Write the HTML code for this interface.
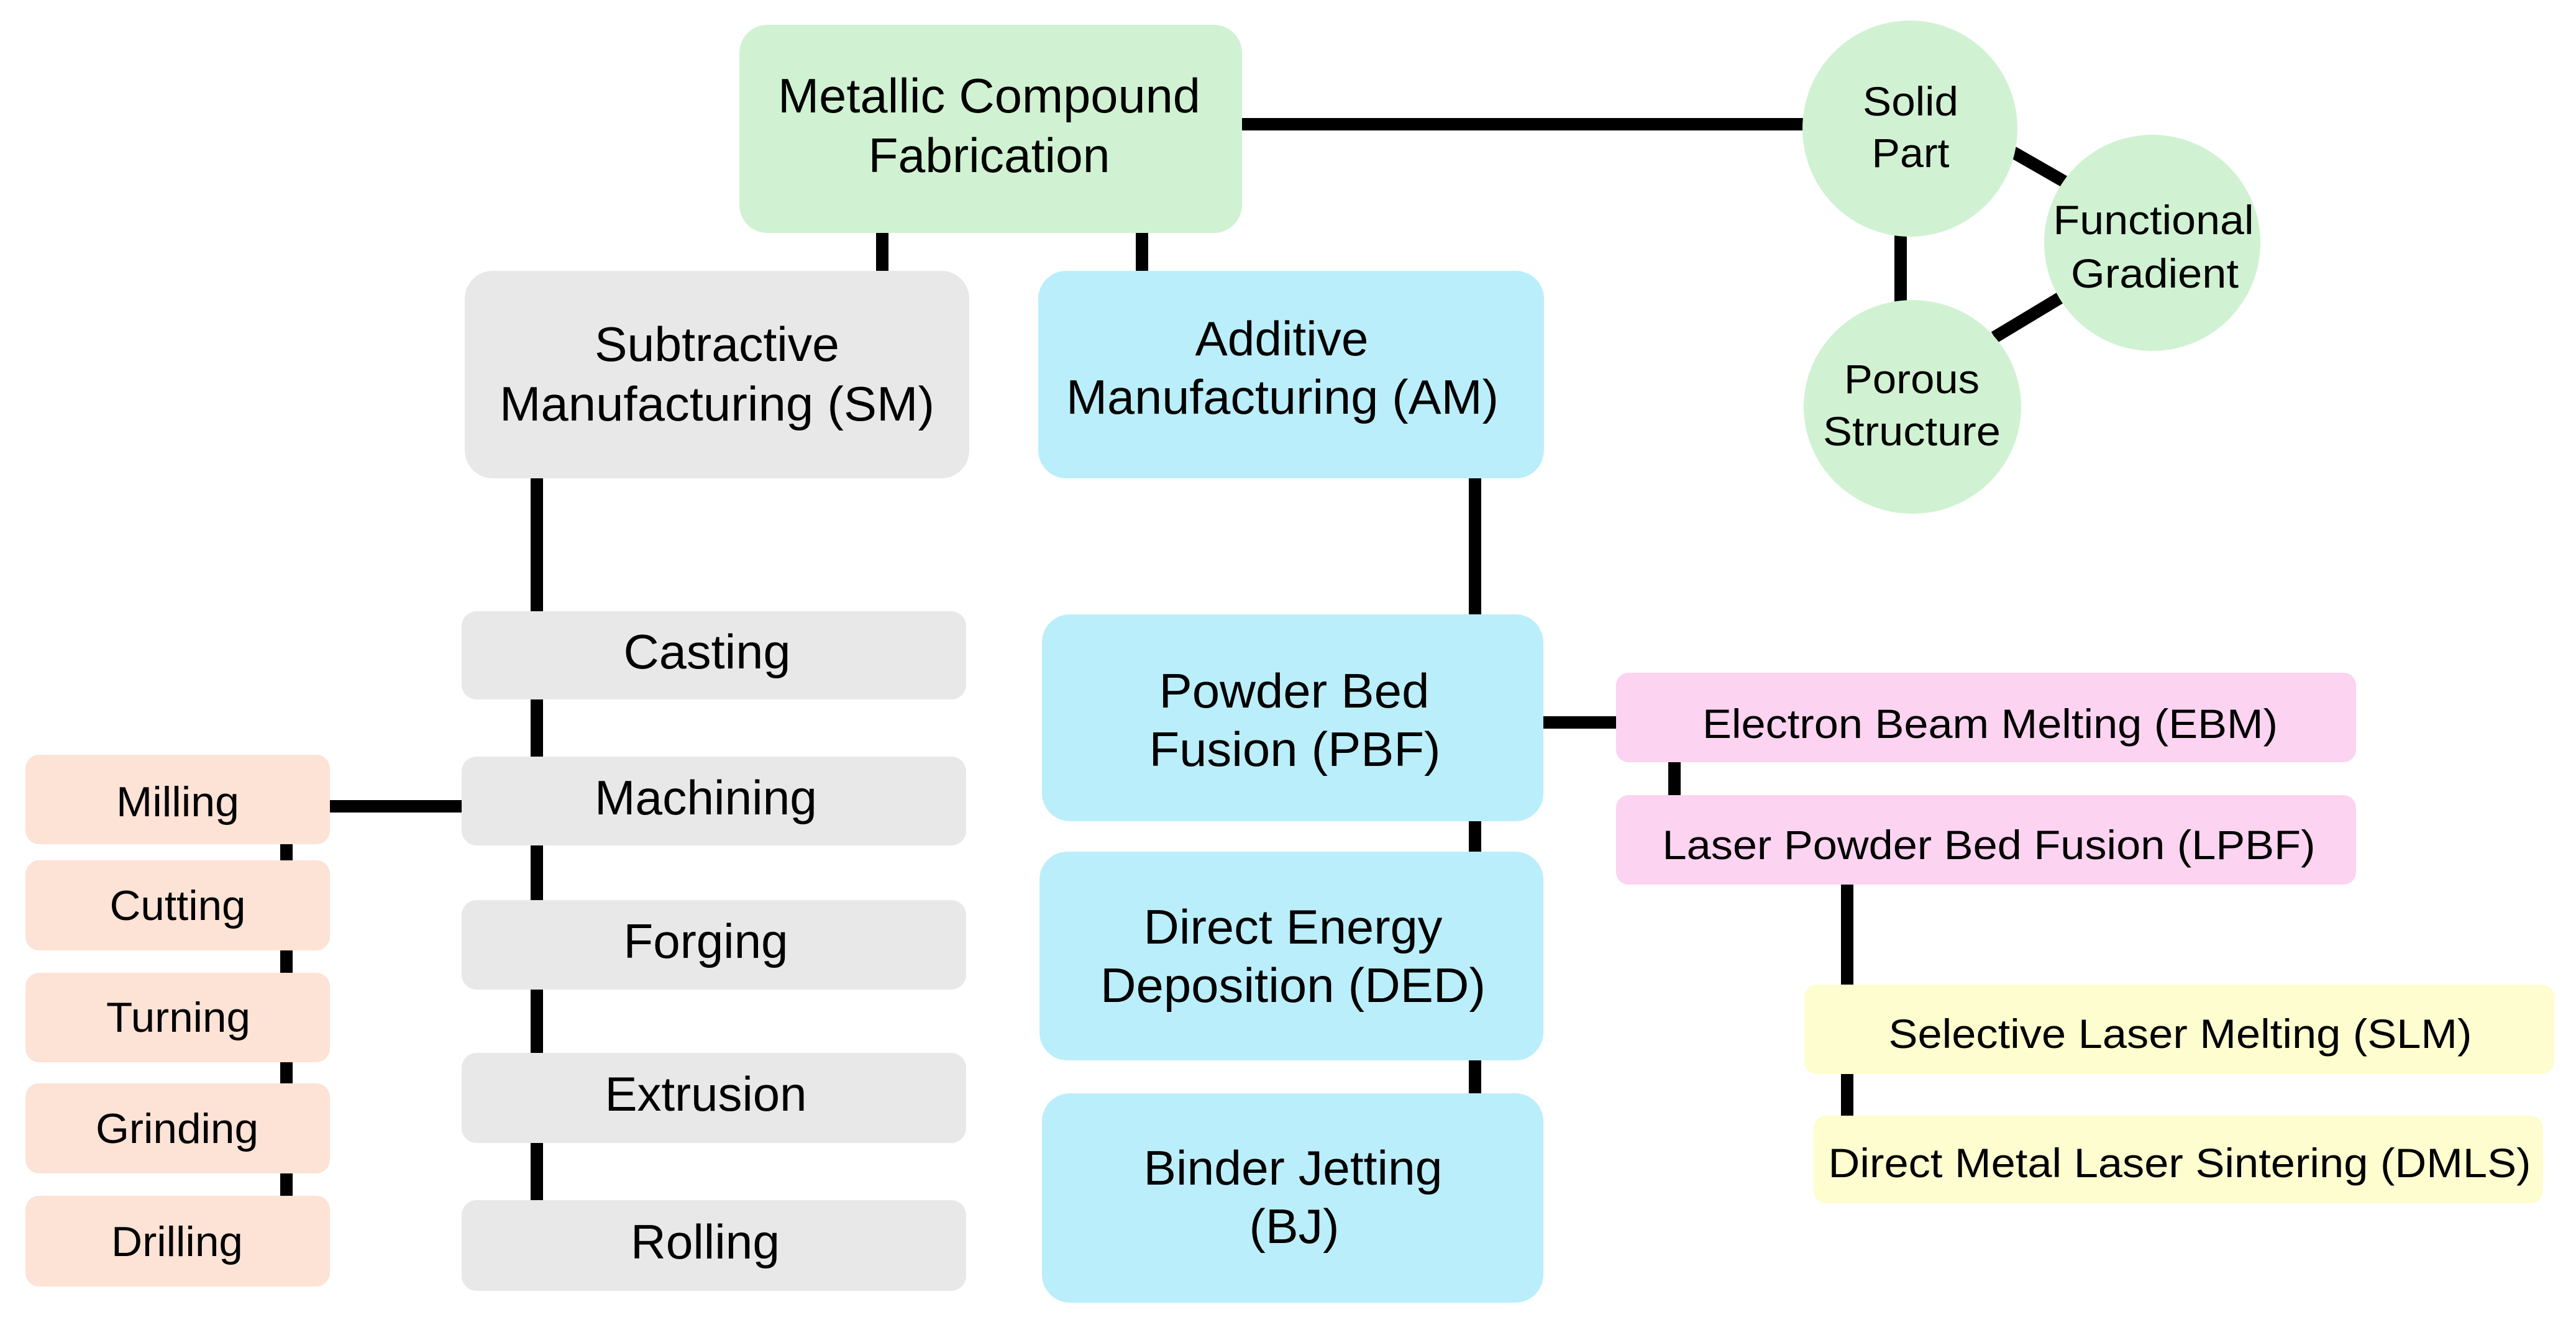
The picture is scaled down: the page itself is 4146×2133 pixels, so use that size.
<!DOCTYPE html>
<html><head><meta charset="utf-8"><style>
html,body{margin:0;padding:0;background:#fff;}
svg{display:block;}
text{font-family:"Liberation Sans",Arial,sans-serif;fill:#000;text-anchor:middle;}
</style></head><body>
<svg width="4146" height="2133" viewBox="0 0 4146 2133" xmlns="http://www.w3.org/2000/svg">
<g stroke="#000" stroke-width="20" fill="none">
<line x1="1999" y1="200" x2="2910" y2="200"/>
<line x1="1420" y1="370" x2="1420" y2="440"/>
<line x1="1838" y1="370" x2="1838" y2="440"/>
<line x1="864" y1="765" x2="864" y2="1940"/>
<line x1="2374" y1="765" x2="2374" y2="1765"/>
<line x1="461" y1="1350" x2="461" y2="1930"/>
<line x1="525" y1="1298" x2="750" y2="1298"/>
<line x1="2480" y1="1163" x2="2605" y2="1163"/>
<line x1="2695" y1="1220" x2="2695" y2="1285"/>
<line x1="2973" y1="1420" x2="2973" y2="1800"/>
<line x1="3059" y1="375" x2="3059" y2="490"/>
<line x1="3240" y1="245" x2="3322" y2="292"/>
<line x1="3210" y1="543" x2="3318" y2="478"/>
</g>
<rect x="1190" y="40" width="809" height="335" rx="45" fill="#d0f2d2"/>
<rect x="748" y="436" width="812" height="334" rx="45" fill="#e8e8e8"/>
<rect x="1671" y="436" width="814" height="334" rx="45" fill="#bbeefb"/>
<g fill="#e8e8e8">
<rect x="743" y="984" width="812" height="142" rx="24"/>
<rect x="743" y="1218" width="812" height="143" rx="24"/>
<rect x="743" y="1449" width="812" height="144" rx="24"/>
<rect x="743" y="1695" width="812" height="145" rx="24"/>
<rect x="743" y="1932" width="812" height="146" rx="24"/>
</g>
<g fill="#fde2d6">
<rect x="41" y="1215" width="490" height="144" rx="22"/>
<rect x="41" y="1385" width="490" height="145" rx="22"/>
<rect x="41" y="1566" width="490" height="144" rx="22"/>
<rect x="41" y="1744" width="490" height="145" rx="22"/>
<rect x="41" y="1925" width="490" height="146" rx="22"/>
</g>
<g fill="#bbeefb">
<rect x="1677" y="989" width="807" height="333" rx="45"/>
<rect x="1673" y="1371" width="811" height="336" rx="45"/>
<rect x="1677" y="1760" width="807" height="337" rx="45"/>
</g>
<g fill="#fcd3f0">
<rect x="2601" y="1083" width="1191" height="144" rx="20"/>
<rect x="2601" y="1280" width="1191" height="144" rx="20"/>
</g>
<g fill="#fdfdcf">
<rect x="2904" y="1585" width="1207" height="144" rx="20"/>
<rect x="2919" y="1796" width="1174" height="141" rx="20"/>
</g>
<g fill="#d0f2d2">
<ellipse cx="3074" cy="207" rx="173" ry="174"/>
<ellipse cx="3464" cy="391" rx="174" ry="174"/>
<ellipse cx="3078" cy="655" rx="175" ry="172"/>
</g>
<g font-size="78">
<text x="1592" y="181" textLength="680" lengthAdjust="spacingAndGlyphs">Metallic Compound</text>
<text x="1592" y="277" textLength="389" lengthAdjust="spacingAndGlyphs">Fabrication</text>
<text x="1154" y="581" textLength="394" lengthAdjust="spacingAndGlyphs">Subtractive</text>
<text x="1154" y="677" textLength="700" lengthAdjust="spacingAndGlyphs">Manufacturing (SM)</text>
<text x="2063" y="572" textLength="279" lengthAdjust="spacingAndGlyphs">Additive</text>
<text x="2064" y="666" textLength="696" lengthAdjust="spacingAndGlyphs">Manufacturing (AM)</text>
<text x="1138" y="1076" textLength="269" lengthAdjust="spacingAndGlyphs">Casting</text>
<text x="1136" y="1311" textLength="358" lengthAdjust="spacingAndGlyphs">Machining</text>
<text x="1136" y="1542" textLength="265" lengthAdjust="spacingAndGlyphs">Forging</text>
<text x="1136" y="1788" textLength="325" lengthAdjust="spacingAndGlyphs">Extrusion</text>
<text x="1135" y="2026" textLength="240" lengthAdjust="spacingAndGlyphs">Rolling</text>
<text x="2083" y="1139" textLength="435" lengthAdjust="spacingAndGlyphs">Powder Bed</text>
<text x="2084" y="1233" textLength="469" lengthAdjust="spacingAndGlyphs">Fusion (PBF)</text>
<text x="2081" y="1519" textLength="481" lengthAdjust="spacingAndGlyphs">Direct Energy</text>
<text x="2081" y="1613" textLength="620" lengthAdjust="spacingAndGlyphs">Deposition (DED)</text>
<text x="2081" y="1907" textLength="481" lengthAdjust="spacingAndGlyphs">Binder Jetting</text>
<text x="2083" y="2001" textLength="145" lengthAdjust="spacingAndGlyphs">(BJ)</text>
</g>
<g font-size="68">
<text x="286" y="1314" textLength="198" lengthAdjust="spacingAndGlyphs">Milling</text>
<text x="286" y="1481" textLength="219" lengthAdjust="spacingAndGlyphs">Cutting</text>
<text x="287" y="1661" textLength="232" lengthAdjust="spacingAndGlyphs">Turning</text>
<text x="285" y="1840" textLength="262" lengthAdjust="spacingAndGlyphs">Grinding</text>
<text x="285" y="2022" textLength="212" lengthAdjust="spacingAndGlyphs">Drilling</text>
</g>
<g font-size="66">
<text x="3075" y="186" textLength="154" lengthAdjust="spacingAndGlyphs">Solid</text>
<text x="3075" y="269" textLength="125" lengthAdjust="spacingAndGlyphs">Part</text>
<text x="3466" y="377" textLength="323" lengthAdjust="spacingAndGlyphs">Functional</text>
<text x="3468" y="463" textLength="270" lengthAdjust="spacingAndGlyphs">Gradient</text>
<text x="3077" y="633" textLength="218" lengthAdjust="spacingAndGlyphs">Porous</text>
<text x="3077" y="717" textLength="286" lengthAdjust="spacingAndGlyphs">Structure</text>
<text x="3203" y="1188" textLength="926" lengthAdjust="spacingAndGlyphs">Electron Beam Melting (EBM)</text>
<text x="3201" y="1383" textLength="1051" lengthAdjust="spacingAndGlyphs">Laser Powder Bed Fusion (LPBF)</text>
<text x="3509" y="1687" textLength="939" lengthAdjust="spacingAndGlyphs">Selective Laser Melting (SLM)</text>
<text x="3508" y="1895" textLength="1131" lengthAdjust="spacingAndGlyphs">Direct Metal Laser Sintering (DMLS)</text>
</g>
</svg>
</body></html>
